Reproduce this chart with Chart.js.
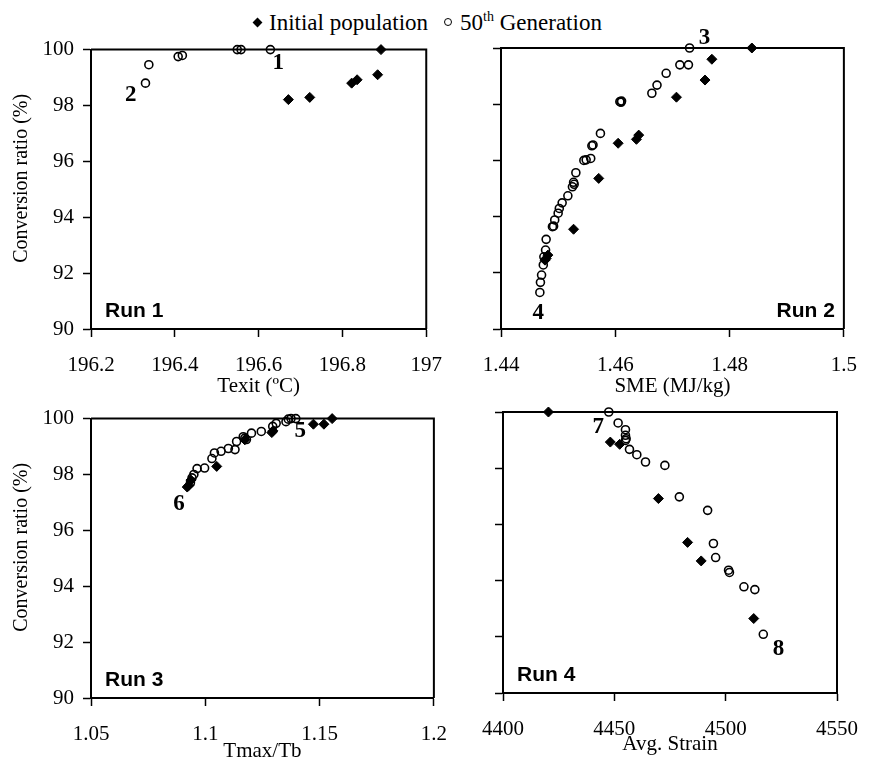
<!DOCTYPE html>
<html>
<head>
<meta charset="utf-8">
<script src="https://cdn.jsdelivr.net/npm/chart.js@4.4.1/dist/chart.umd.min.js"></script>
<style>
  body { margin: 0; background: #fff; }
  #wrap { position: relative; width: 875px; height: 762px; overflow: hidden; font-family: "Liberation Serif", serif; }
  #wrap canvas { position: absolute; }
  #legend { position: absolute; top: 9px; left: 254px; font-size: 23px; color: #000; white-space: nowrap; }
  #legend .dia { display: inline-block; width: 7px; height: 7px; background: #000; transform: rotate(45deg); margin: 0 8px 4px 0; }
  #legend .circ { display: inline-block; width: 6px; height: 6px; border: 1.5px solid #000; border-radius: 50%; margin: 0 8px 4px 16px; }
  #legend sup { font-size: 14px; }
</style>
</head>
<body>
<div id="wrap">
  <div id="legend"><span class="dia"></span>Initial population<span class="circ"></span>50<sup>th</sup> Generation</div>
  <canvas id="c1"></canvas>
  <canvas id="c2"></canvas>
  <canvas id="c3"></canvas>
  <canvas id="c4"></canvas>
</div>
<script>
// ---- data ----
const yTicks = [90, 92, 94, 96, 98, 100];

const xTicks1 = [196.2, 196.4, 196.6, 196.8, 197];
const run1InitX = [196.671, 196.722, 196.822, 196.835, 196.884, 196.892];
const run1InitY = [98.21, 98.29, 98.80, 98.92, 99.10, 100];
const run1GenX = [196.330, 196.338, 196.408, 196.418, 196.549, 196.558, 196.628];
const run1GenY = [98.80, 99.46, 99.75, 99.79, 100, 100, 100];

const xTicks2 = [1.44, 1.46, 1.48, 1.5];
const run2InitX = [1.4839, 1.4769, 1.4757, 1.4707, 1.4641, 1.4637, 1.4605, 1.4571, 1.4527, 1.4482, 1.4479, 1.4477];
const run2InitY = [100, 99.60, 98.86, 98.25, 96.90, 96.75, 96.61, 95.36, 93.55, 92.63, 92.51, 92.45];
const run2GenX = [1.4730, 1.4713, 1.4728, 1.4689, 1.4673, 1.4664, 1.4608, 1.4611, 1.4610, 1.4574, 1.4561, 1.4559,
  1.4557, 1.4545, 1.4549, 1.4531, 1.4527, 1.4528, 1.4525, 1.4517, 1.4507, 1.4502, 1.4500, 1.4494, 1.4490, 1.4492,
  1.4479, 1.4478, 1.4475, 1.4474, 1.4471, 1.4469, 1.4468];
const run2GenY = [100, 99.40, 99.40, 99.10, 98.68, 98.39, 98.09, 98.11, 98.07, 96.96, 96.55, 96.52,
  96.07, 96.00, 96.02, 95.56, 95.22, 95.15, 95.06, 94.74, 94.49, 94.29, 94.12, 93.88, 93.64, 93.66,
  93.19, 92.81, 92.57, 92.28, 91.92, 91.66, 91.30];

const xTicks3 = [1.05, 1.1, 1.15, 1.2];
const run3InitX = [1.1555, 1.1519, 1.1473, 1.1291, 1.1296, 1.1173, 1.1050, 1.0937, 1.0928, 1.0921];
const run3InitY = [100, 99.80, 99.80, 99.50, 99.56, 99.24, 98.29, 97.80, 97.61, 97.55];
const run3GenX = [1.1396, 1.1375, 1.1363, 1.1353, 1.1310, 1.1295, 1.1245, 1.1202, 1.1173, 1.1180, 1.1166,
  1.1137, 1.1130, 1.1101, 1.1069, 1.1040, 1.1029, 1.0997, 1.0964, 1.0950, 1.0942, 1.0935];
const run3GenY = [100, 100, 99.98, 99.89, 99.83, 99.72, 99.54, 99.48, 99.30, 99.25, 99.35,
  99.18, 98.89, 98.93, 98.83, 98.77, 98.57, 98.23, 98.21, 98.00, 97.88, 97.70];

const xTicks4 = [4400, 4450, 4500, 4550];
const run4InitX = [4420.4, 4448.2, 4452.4, 4469.8, 4482.9, 4489.0, 4512.6];
const run4InitY = [100, 98.93, 98.85, 96.92, 95.36, 94.70, 92.65];
const run4GenX = [4447.5, 4451.7, 4455.0, 4455.0, 4455.3, 4455.0, 4456.8, 4460.1, 4464.0, 4472.7,
  4479.2, 4491.9, 4494.5, 4495.5, 4501.3, 4501.7, 4508.2, 4513.1, 4516.9];
const run4GenY = [100, 99.61, 99.37, 99.17, 99.05, 98.99, 98.67, 98.48, 98.22, 98.10,
  96.98, 96.50, 95.32, 94.82, 94.37, 94.29, 93.78, 93.68, 92.09];

// ---- panels ----
const SERIF = '"Liberation Serif", serif';
const SANS = '"Liberation Sans", Arial, sans-serif';
const zip = (xs, ys) => xs.map((x, i) => ({ x: x, y: ys[i] }));

const panels = [
  { id: 'c1', box: [91, 48, 433, 329], xTicks: xTicks1, xTitle: 'Texit (ºC)', titlePad: 0, yLabels: true,
    init: zip(run1InitX, run1InitY), gen: zip(run1GenX, run1GenY), run: 'Run 1', runLeft: true,
    notes: [['1', 196.647, 99.51], ['2', 196.295, 98.39]] },
  { id: 'c2', box: [501, 48, 848, 329], xTicks: xTicks2, xTitle: 'SME (MJ/kg)', titlePad: 0, yLabels: false,
    init: zip(run2InitX, run2InitY), gen: zip(run2GenX, run2GenY), run: 'Run 2', runLeft: false,
    notes: [['3', 1.4756, 100.35], ['4', 1.4465, 90.56]] },
  { id: 'c3', box: [91, 417, 438, 698], xTicks: xTicks3, xTitle: 'Tmax/Tb', titlePad: 4, yLabels: true,
    init: zip(run3InitX, run3InitY), gen: zip(run3GenX, run3GenY), run: 'Run 3', runLeft: true,
    notes: [['5', 1.1415, 99.54], ['6', 1.0885, 96.93]] },
  { id: 'c4', box: [503, 412, 849, 693], xTicks: xTicks4, xTitle: 'Avg. Strain', titlePad: 6, yLabels: false,
    init: zip(run4InitX, run4InitY), gen: zip(run4GenX, run4GenY), run: 'Run 4', runLeft: true,
    notes: [['7', 4442.8, 99.48], ['8', 4523.7, 91.56]] }
];

const PAD_L = 90, PAD_T = 20, PAD_R = 25, AX_H = 70;

// frame, run labels, point numbers, y title
const extrasPlugin = {
  id: 'extras',
  beforeDatasetsDraw(chart, args, opts) {
    const { ctx, chartArea: a } = chart;
    ctx.save();
    ctx.strokeStyle = '#000';
    ctx.lineWidth = 2;
    ctx.beginPath();
    ctx.moveTo(a.left, a.top);
    ctx.lineTo(a.right, a.top);
    ctx.lineTo(a.right, a.bottom);
    ctx.stroke();
    ctx.restore();
  },
  afterDraw(chart, args, opts) {
    const { ctx, chartArea: a, scales } = chart;
    const p = opts.panel;
    ctx.save();
    ctx.fillStyle = '#000';
    ctx.font = 'bold 21px ' + SANS;
    ctx.textBaseline = 'middle';
    if (p.runLeft) {
      ctx.textAlign = 'left';
      ctx.fillText(p.run, a.left + 14, a.bottom - 18);
    } else {
      ctx.textAlign = 'right';
      ctx.fillText(p.run, a.right - 9, a.bottom - 18);
    }
    ctx.font = 'bold 23px ' + SERIF;
    ctx.textAlign = 'center';
    p.notes.forEach(n => {
      ctx.fillText(n[0], scales.x.getPixelForValue(n[1]), scales.y.getPixelForValue(n[2]));
    });
    if (p.yLabels) {
      ctx.font = '20px ' + SERIF;
      ctx.translate(22 - (p.box[0] - PAD_L), (a.top + a.bottom) / 2 - 11);
      ctx.rotate(-Math.PI / 2);
      ctx.fillText('Conversion ratio (%)', 0, 0);
    }
    ctx.restore();
  }
};

panels.forEach(p => {
  const [l, t, r, b] = p.box;
  const cv = document.getElementById(p.id);
  cv.width = r - l + PAD_L + PAD_R;
  cv.height = b - t + PAD_T + AX_H;
  cv.style.left = (l - PAD_L) + 'px';
  cv.style.top = (t - PAD_T) + 'px';

  const axisGrid = { drawOnChartArea: false, color: '#000', tickLength: 8, tickWidth: 1.5 };
  const axisBorder = { color: '#000', width: 2 };

  new Chart(cv, {
    type: 'scatter',
    data: {
      datasets: [
        { label: 'Initial population', data: p.init, pointStyle: 'rectRot', pointRadius: 5,
          backgroundColor: '#000', borderColor: '#000', borderWidth: 1, clip: false },
        { label: '50th Generation', data: p.gen, pointStyle: 'circle', pointRadius: 4,
          backgroundColor: 'rgba(0,0,0,0)', borderColor: '#000', borderWidth: 1.6, clip: false }
      ]
    },
    options: {
      responsive: false,
      animation: false,
      layout: { padding: { left: 0, top: PAD_T, right: PAD_R, bottom: 0 } },
      plugins: { legend: { display: false }, tooltip: { enabled: false }, extras: { panel: p } },
      scales: {
        x: {
          type: 'linear',
          min: p.xTicks[0], max: p.xTicks[p.xTicks.length - 1],
          afterBuildTicks: s => { s.ticks = p.xTicks.map(v => ({ value: v })); },
          afterFit: s => { s.height = AX_H; },
          ticks: { color: '#000', font: { family: SERIF, size: 21 }, padding: 16, maxRotation: 0, autoSkip: false,
                   callback: v => String(v) },
          grid: axisGrid,
          border: axisBorder,
          title: { display: true, text: p.xTitle, color: '#000', font: { family: SERIF, size: 21 },
                   padding: { top: 0, bottom: p.titlePad } }
        },
        y: {
          type: 'linear',
          min: yTicks[0], max: yTicks[yTicks.length - 1],
          afterBuildTicks: s => { s.ticks = yTicks.map(v => ({ value: v })); },
          afterFit: s => { s.width = PAD_L; },
          ticks: { display: p.yLabels, color: '#000', font: { family: SERIF, size: 21 }, padding: 9,
                   callback: v => String(v) },
          grid: axisGrid,
          border: axisBorder
        }
      }
    },
    plugins: [extrasPlugin]
  });
});
</script>
</body>
</html>
